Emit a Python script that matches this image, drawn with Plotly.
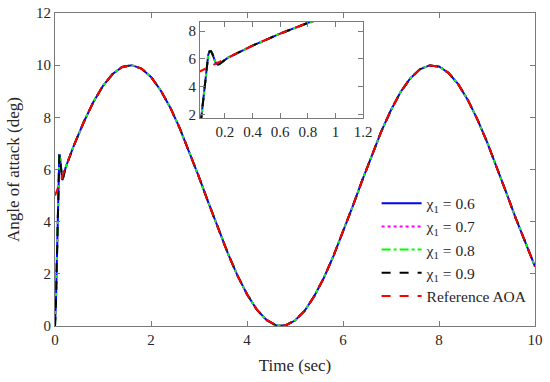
import plotly.graph_objects as go

ref_t = [0.0, 0.2, 0.4, 0.6, 0.8, 1.0, 1.2, 1.4, 1.6, 1.8, 2.0, 2.2, 2.4, 2.6, 2.8,
         3.0, 3.2, 3.4, 3.6, 3.8, 4.0, 4.2, 4.4, 4.6, 4.8, 5.0, 5.2, 5.4, 5.6, 5.8,
         6.0, 6.2, 6.4, 6.6, 6.8, 7.0, 7.2, 7.4, 7.6, 7.8, 8.0, 8.2, 8.4, 8.6, 8.8,
         9.0, 9.2, 9.4, 9.6, 9.8, 10.0]
ref_aoa = [5.00, 5.99, 6.95, 7.82, 8.59, 9.21, 9.66, 9.93, 10.00, 9.87, 9.55, 9.04,
           8.38, 7.58, 6.67, 5.71, 4.71, 3.72, 2.79, 1.94, 1.22, 0.64, 0.24, 0.03,
           0.02, 0.21, 0.58, 1.14, 1.84, 2.68, 3.60, 4.58, 5.58, 6.56, 7.47, 8.28,
           8.97, 9.49, 9.84, 9.99, 9.95, 9.70, 9.27, 8.67, 7.92, 7.06, 6.11, 5.12,
           4.13, 3.17, 2.28]

# Initial transient of the tracked AOA (same for all chi values)
trans_t = [0.0, 0.01, 0.02, 0.03, 0.04, 0.05, 0.06, 0.07, 0.08, 0.09, 0.10, 0.11,
           0.12, 0.13, 0.14, 0.15, 0.16, 0.17, 0.18, 0.19, 0.20, 0.22, 0.25, 0.30]
trans_aoa = [0.0, 0.3, 0.9, 1.8, 2.8, 3.8, 4.8, 5.7, 6.3, 6.55, 6.55, 6.35,
             6.05, 5.8, 5.65, 5.6, 5.62, 5.7, 5.8, 5.9, 5.97, 6.07, 6.22, 6.46]

chi_labels = ["χ<sub>1</sub> = 0.6", "χ<sub>1</sub> = 0.7",
              "χ<sub>1</sub> = 0.8", "χ<sub>1</sub> = 0.9"]
chi_colors = ["#0000ff", "#ff00ff", "#00ff00", "#000000"]
chi_dashes = ["solid", "dot", "dashdot", "dash"]

ctrl_t = trans_t + [t for t in ref_t if t > 0.3]
ctrl_aoa = trans_aoa + [v for t, v in zip(ref_t, ref_aoa) if t > 0.3]

fig = go.Figure()
for lab, col, dsh in zip(chi_labels, chi_colors, chi_dashes):
    fig.add_trace(go.Scatter(x=ctrl_t, y=ctrl_aoa, mode="lines", name=lab,
                             line=dict(color=col, width=2, dash=dsh)))
fig.add_trace(go.Scatter(x=ref_t, y=ref_aoa, mode="lines", name="Reference AOA",
                         line=dict(color="#ff0000", width=2, dash="dash")))
# inset
for lab, col, dsh in zip(chi_labels, chi_colors, chi_dashes):
    fig.add_trace(go.Scatter(x=ctrl_t, y=ctrl_aoa, mode="lines", showlegend=False,
                             xaxis="x2", yaxis="y2",
                             line=dict(color=col, width=2, dash=dsh)))
fig.add_trace(go.Scatter(x=ref_t, y=ref_aoa, mode="lines", showlegend=False,
                         xaxis="x2", yaxis="y2",
                         line=dict(color="#ff0000", width=2, dash="dash")))

axcol = "#7a7a7a"
tickfont = dict(family="Liberation Serif", size=15, color="#262626")
common = dict(showline=True, linecolor=axcol, linewidth=1, mirror="ticks",
              ticks="inside", ticklen=5, tickcolor=axcol, showgrid=False,
              zeroline=False, tickfont=tickfont, automargin=False,
              ticklabeloverflow="allow")

fig.update_layout(
    width=550, height=382,
    margin=dict(l=55, r=15, t=13, b=56),
    paper_bgcolor="white", plot_bgcolor="white",
    font=dict(family="Liberation Serif", color="#262626"),
    xaxis=dict(range=[0, 10], tickvals=[0, 2, 4, 6, 8, 10],
               title=dict(text="Time (sec)", font=dict(size=17), standoff=12), **common),
    yaxis=dict(range=[0, 12], tickvals=[0, 2, 4, 6, 8, 10, 12],
               title=dict(text="Angle of attack (deg)", font=dict(size=17), standoff=12), **common),
    xaxis2=dict(domain=[0.302, 0.642], anchor="y2", range=[0.02, 1.2],
                tickvals=[0.2, 0.4, 0.6, 0.8, 1, 1.2], ticktext=["0.2", "0.4", "0.6", "0.8", "1", "1.2"],
                **common),
    yaxis2=dict(domain=[0.663, 0.971], anchor="x2", range=[1.7, 8.65],
                tickvals=[2, 4, 6, 8], **common),
    legend=dict(x=0.67, y=0.445, xanchor="left", yanchor="top",
                bgcolor="rgba(0,0,0,0)", borderwidth=0,
                font=dict(family="Liberation Serif", size=15.5, color="#262626"),
                itemwidth=40, tracegroupgap=0),
    showlegend=True,
)

fig.write_html("out.html", config={"displayModeBar": False},
               post_script="document.body.style.margin='0px';")
